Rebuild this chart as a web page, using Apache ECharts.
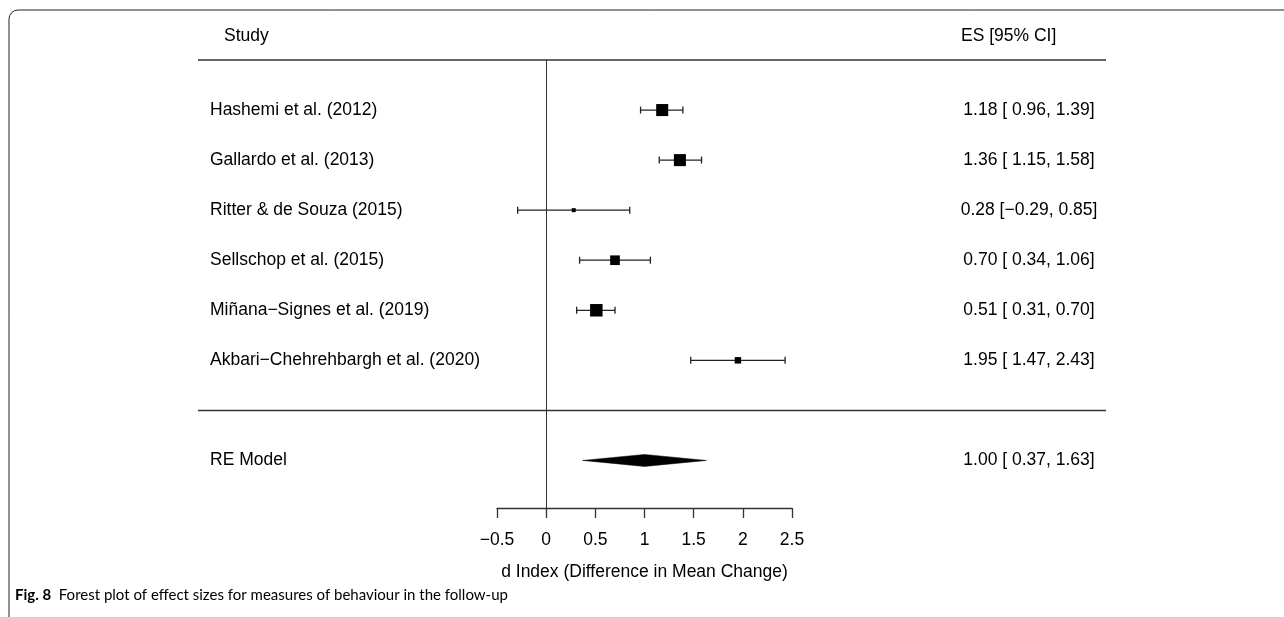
<!DOCTYPE html>
<html>
<head>
<meta charset="utf-8">
<script src="https://cdn.jsdelivr.net/npm/echarts@6/dist/echarts.min.js"></script>
<style>
html,body{margin:0;padding:0;background:#fff;}
#main{width:1284px;height:617px;}
</style>
</head>
<body>
<div id="main"></div>
<script>
// data
var studies = ['Hashemi et al. (2012)', 'Gallardo et al. (2013)', 'Ritter & de Souza (2015)',
	'Sellschop et al. (2015)', 'Mi\u00f1ana\u2212Signes et al. (2019)', 'Akbari\u2212Chehrehbargh et al. (2020)'];
var es = [1.18, 1.36, 0.28, 0.70, 0.51, 1.95];
var ciLow = [0.96, 1.15, -0.29, 0.34, 0.31, 1.47];
var ciHigh = [1.39, 1.58, 0.85, 1.06, 0.70, 2.43];
var weights = [19.2, 19.2, 12.4, 17.2, 19.6, 14.5];
var reLabel = 'RE Model';
var reModel = [1.00, 0.37, 1.63]; // estimate, low, high
var xTicks = [-0.5, 0, 0.5, 1, 1.5, 2, 2.5];
var xTitle = 'd Index (Difference in Mean Change)';
var caption = 'Forest plot of effect sizes for measures of behaviour in the follow-up';

var FONT = '"Liberation Sans", Arial, sans-serif';
var FS = 17.5;
var LINE = '#333';

var reRow = studies.length + 2;
var xStep = xTicks[1] - xTicks[0];

function num(v){
	return (v < 0 ? '\u2212' : '') + Math.abs(v).toFixed(2);
}
function annot(e, l, h){
	return num(e) + ' [' + (l < 0 ? '' : ' ') + num(l) + ', ' + num(h) + ']';
}
function txt(s, x, y, align){
	return {type: 'text', x: x, y: y,
		style: {text: s, font: FS + 'px ' + FONT, fill: '#000',
			textAlign: align, textVerticalAlign: 'middle', align: align, verticalAlign: 'middle'}};
}

// table rows: label + annotation, row index on y
var tableRows = [];
for(var i = 0; i < studies.length; i++){
	tableRows.push({label: studies[i], text: annot(es[i], ciLow[i], ciHigh[i]), row: i + 1});
}
tableRows.push({label: reLabel, text: annot(reModel[0], reModel[1], reModel[2]), row: reRow});

var wMin = Math.min.apply(null, weights), wMax = Math.max.apply(null, weights);
function boxSize(w){
	return 4 + (w - wMin) / (wMax - wMin) * 8.5;
}

var chart = echarts.init(document.getElementById('main'));

var option = {
	animation: false,
	backgroundColor: '#fff',
	grid: {left: 497, right: 492, top: 60, height: 448},
	xAxis: {
		type: 'value',
		min: xTicks[0],
		max: xTicks[xTicks.length - 1],
		interval: xStep,
		axisLine: {show: true, onZero: false, lineStyle: {color: LINE, width: 1.3}},
		axisTick: {show: true, length: 10, lineStyle: {color: LINE, width: 1.3}},
		axisLabel: {
			fontSize: FS, color: '#000', fontFamily: FONT, margin: 23,
			formatter: function(v){ return v < 0 ? '\u2212' + Math.abs(v) : String(v); }
		},
		splitLine: {show: false},
		name: xTitle,
		nameLocation: 'middle',
		nameGap: 55,
		nameTextStyle: {fontSize: FS, color: '#000', fontFamily: FONT}
	},
	yAxis: {
		type: 'value',
		inverse: true,
		min: 0,
		max: reRow + 0.95,
		axisLine: {show: true, onZero: true, lineStyle: {color: LINE, width: 1}},
		axisTick: {show: false},
		axisLabel: {show: false},
		splitLine: {show: false}
	},
	graphic: [
		{
			type: 'rect', silent: true,
			shape: {x: 9, y: 10, width: 1400, height: 800, r: [9, 0, 0, 0]},
			style: {fill: 'none', stroke: '#222', lineWidth: 1}
		},
		{
			type: 'text', left: 15, top: 588, silent: true,
			style: {
				text: '{b|Fig. 8}  ' + caption,
				rich: {b: {fontWeight: 'bold', fontSize: 15, fontFamily: 'Lato, sans-serif', fill: '#000'}},
				font: '15px Lato, sans-serif',
				fill: '#000'
			}
		}
	],
	series: [
		// separators + headers
		{
			type: 'custom', silent: true, clip: false,
			data: [[0], [reRow - 1]],
			renderItem: function(params, api){
				var y = api.coord([0, api.value(0)])[1];
				var kids = [{
					type: 'line',
					shape: {x1: 198, y1: y, x2: 1106, y2: y},
					style: {stroke: LINE, lineWidth: 1.5}
				}];
				if(params.dataIndex === 0){
					kids.push(txt('Study', 224, y - 24, 'left'));
					kids.push(txt('ES [95% CI]', 961, y - 24, 'left'));
				}
				return {type: 'group', children: kids};
			}
		},
		// row labels and annotations
		{
			type: 'custom', silent: true, clip: false,
			data: tableRows.map(function(r){ return [0, r.row]; }),
			renderItem: function(params, api){
				var y = api.coord([0, api.value(1)])[1];
				var r = tableRows[params.dataIndex];
				return {type: 'group', children: [
					txt(r.label, 210, y, 'left'),
					txt(r.text, 1029, y, 'center')
				]};
			}
		},
		// confidence intervals
		{
			type: 'custom', silent: true,
			data: studies.map(function(s, i){ return [ciLow[i], ciHigh[i], i + 1]; }),
			renderItem: function(params, api){
				var p1 = api.coord([api.value(0), api.value(2)]);
				var p2 = api.coord([api.value(1), api.value(2)]);
				var st = {stroke: '#222', lineWidth: 1.3};
				return {type: 'group', children: [
					{type: 'line', shape: {x1: p1[0], y1: p1[1], x2: p2[0], y2: p2[1]}, style: st},
					{type: 'line', shape: {x1: p1[0], y1: p1[1] - 3.5, x2: p1[0], y2: p1[1] + 3.5}, style: st},
					{type: 'line', shape: {x1: p2[0], y1: p2[1] - 3.5, x2: p2[0], y2: p2[1] + 3.5}, style: st}
				]};
			}
		},
		// point estimates
		{
			type: 'scatter', silent: true,
			symbol: 'rect',
			data: es.map(function(v, i){ return {value: [v, i + 1], symbolSize: boxSize(weights[i])}; }),
			itemStyle: {color: '#000', opacity: 1}
		},
		// pooled diamond
		{
			type: 'custom', silent: true,
			data: [[reModel[0], reModel[1], reModel[2], reRow]],
			renderItem: function(params, api){
				var row = api.value(3);
				var c = api.coord([api.value(0), row]);
				var l = api.coord([api.value(1), row]);
				var h = api.coord([api.value(2), row]);
				return {type: 'polygon',
					shape: {points: [[l[0], l[1]], [c[0], c[1] - 6], [h[0], h[1]], [c[0], c[1] + 6]]},
					style: {fill: '#000', stroke: '#000', lineWidth: 0.5}};
			}
		}
	]
};
chart.setOption(option);
</script>
</body>
</html>
